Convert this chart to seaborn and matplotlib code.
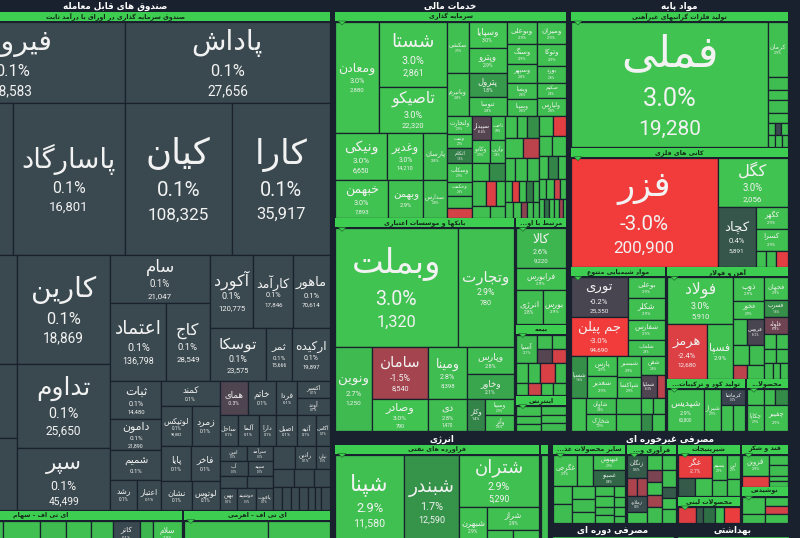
import numpy as np
import pandas as pd
import seaborn as sns
import matplotlib
matplotlib.use("Agg")
import matplotlib.pyplot as plt
from matplotlib.patches import Rectangle, Polygon
from matplotlib.colors import Normalize

# ---------------------------------------------------------------- data
# (symbol, daily change %, last price, market-size weight)
fi_row1 = [("فیروزه", 0.1, "18,583", 181), ("پاداش", 0.1, "27,656", 166)]
fi_row2 = [("", 0.1, "", 171), ("پاسارگاد", 0.1, "16,801", 171), ("کیان", 0.1, "108,325", 162), ("کارا", 0.1, "35,917", 150)]
fi_cut = [("", 0.1, "", 127), ("", 0.1, "", 85), ("", 0.1, "", 84)]
fi_big = [("کارین", 0.1, "18,869", 102), ("تداوم", 0.1, "25,650", 79), ("سپر", 0.1, "45,499", 58)]
fi_sam = [("سام", 0.1, "21,047", 47)]
fi_etemad = [("اعتماد", 0.1, "136,798", 44), ("کاج", 0.1, "28,549", 34)]
fi_akord = [("آکورد", 0.1, "120,775", 32), ("کارآمد", 0.1, "17,846", 29), ("ماهور", 0.1, "70,614", 27)]
fi_toska = [("توسکا", 0.1, "23,575", 30), ("ثمر", 0.1, "15,666", 14), ("ارکیده", 0.1, "19,897", 20)]
fi_sabat = [("ثبات", 0.1, "14,480", 19), ("دامون", 0.1, "21,890", 16), ("شمیم", 0.1, "", 15)]
fi_roshd = [("رشد", 0.1, "", 8), ("اعتبار", 0.1, "", 7.5)]
fi_kamand = [("کمند", 0.1, "", 14.5)]
fi_lotix = [("لوتیکس", 0.1, "98,882", 12), ("زمرد", 0.1, "", 11)]
fi_paya = [("پایا", 0.1, "", 10.5), ("فاخر", 0.1, "", 10)]
fi_neshan = [("نشان", 0.1, "", 8.7), ("لوتوس", 0.1, "", 8.1)]
fi_homay = [("همای", -0.3, "", 9.5), ("خاتم", 0.1, "", 9.8), ("فردا", 0.1, "", 7)]
fi_exir = [("اکسیر", 0.1, "", 5.4), ("آوند", 0.1, "", 5.8)]
fi_sahel = [("ساحل", 0.1, "", 5.8), ("آلما", 0.1, "", 6.4), ("دارا", 0.1, "", 5.4),
            ("اصیل", 0.1, "", 6.4), ("آتیه", 0.1, "", 5.8), ("آگاس", 0.1, "", 4.5)]
fi_tiny_a = [("امین", 0.1, "", 4.0), ("سرآمد", 0.1, "", 3.8)]
fi_tiny_b = [("آب", 0.1, "", 4.2), ("سپید", 0.1, "", 3.8)]
fi_tiny_c = [("سخند", 0.1, "", 3.2), ("", 0.1, "", 3.0)]
fi_tiny_d = [("بهین", 0.1, "", 4.0), ("خوشپند", 0.1, "", 4.2), ("یاقوت", 0.1, "", 3.8)]
fi_tiny_e = [("", 0.1, "", 5.0), ("رادین", 0.1, "", 4.6), ("نیلی", 0.1, "", 3.2)]
fi_tiny_f = [("", 0.1, "", 4.0), ("", 0.1, "", 3.6), ("", 0.1, "", 3.0)]
fi_tiny_g = [("", 0.1, "", 2.0), ("", 0.1, "", 2.0), ("", 0.1, "", 2.0), ("", 0.1, "", 2.0),
             ("", 0.1, "", 1.5), ("", 0.1, "", 1.5), ("", 0.1, "", 2.0)]
etf_stock = [("", 2.8, "", 26.5), ("", 2.9, "", 9.6), ("", 2.7, "", 6.8), ("", 2.9, "", 6.5),
             ("", 2.8, "", 5.7), ("کاتر", 0.1, "", 7), ("", 2.6, "", 3.4), ("سلام", 2.9, "", 7.5)]
etf_lev = [("", 2.9, "", 22), ("", 2.9, "", 16)]

inv_maaden = [("ومعادن", 3.0, "2,880", 49)]
inv_shasta = [("شستا", 3.0, "2,861", 44), ("تاصیکو", 3.0, "22,320", 31)]
inv_row2 = [("ونیکی", 3.0, "6,650", 25), ("وغدیر", 3.0, "14,210", 17), ("پارسان", 2.8, "", 11.5)]
inv_row3 = [("خبهمن", 3.0, "7,893", 20), ("وبهمن", 2.9, "", 13), ("صدارس", 2.8, "", 9)]
inv_b1c1 = [("سکشی", 2.9, "", 11), ("وبانیرم", 2.8, "", 9.2)]
inv_b1c2 = [("وسپایا", 3.0, "", 10), ("وپترو", 2.9, "", 9.3), ("پترول", 1.8, "", 9.3), ("ثنوسا", 2.8, "", 7)]
inv_b1c3 = [("وبوعلی", 2.9, "", 6.9), ("وسنگ", 2.9, "", 6), ("وسپهر", 2.8, "", 5.7), ("ویسا", 2.8, "", 5.1), ("وسینا", 2.8, "", 5.1)]
inv_b1c4 = [("ومیران", 2.9, "", 6.4), ("وتوکا", 2.9, "", 6.2), ("بورد", 2.8, "", 4.8), ("صکیم", 2.8, "", 4.5), ("ولپارس", 2.8, "", 5)]
b2_c1 = [("ولتجارت", 2.9, "", 4.5), ("ونفت", 2.9, "", 3.5), ("اتکام", 1.3, "", 3.8), ("وسکاب", 2.9, "", 4.5),
         ("وحکمت", 2.8, "", 3.5), ("", 2.9, "", 3.0), ("", -2.2, "", 2.5)]
b2_c2r1 = [("سپیدار", -0.4, "", 4.6), ("ثاخت", 2.8, "", 3.4)]
b2_c2r2 = [("وکادو", 2.9, "", 4.0), ("وآرین", 2.8, "", 3.6)]
b2_c2r3 = [("", 2.9, "", 3.2), ("", 1.5, "", 3.0)]
b2_c2r4 = [("", 2.8, "", 3.4), ("", -2.4, "", 2.6), ("", 2.9, "", 2.2)]
b2_c2r5 = [("", 2.9, "", 2.2), ("", 2.8, "", 1.8)]
b2_c3r1 = [("وتوسکا", 2.9, "", 2.6), ("", 2.8, "", 2.4), ("", 1.6, "", 2.5)]
b2_c3r2 = [("", 2.9, "", 3.5), ("", -1.8, "", 3.0)]
b2_c3r3 = [("", 2.8, "", 2.2), ("", 2.9, "", 2.8), ("", 2.7, "", 2.5)]
b2_c3r4 = [("", 2.8, "", 1.5), ("", -2.5, "", 1.5), ("", 2.9, "", 1.5), ("", 1.2, "", 1.5), ("", 2.7, "", 1.2)]
b2_c3r5 = [("", 2.8, "", 1.2), ("", 2.9, "", 1.2), ("", -1.2, "", 1.0), ("", 2.8, "", 1.0), ("", 2.7, "", 0.8)]
b2_c4r1 = [("", 2.9, "", 3.0), ("", -2.6, "", 2.5)]
b2_c4r2 = [("", 2.8, "", 2.8), ("", 2.9, "", 2.8)]
b2_c4r3 = [("", 2.9, "", 2.2), ("", 1.4, "", 2.2), ("", 2.8, "", 1.8)]
b2_c4r4 = [("", 2.8, "", 1.5), ("", 2.9, "", 1.5), ("", -2.0, "", 1.2), ("", 2.7, "", 1.2)]
b2_c4r5 = [("", 2.8, "", 1.0), ("", 1.0, "", 1.0), ("", 2.9, "", 1.0), ("", 2.8, "", 0.8), ("", -1.5, "", 0.8), ("", 2.9, "", 0.6)]

bank_top = [("وبملت", 3.0, "1,320", 146), ("وتجارت", 2.9, "780", 67)]
bank_novin = [("ونوین", 2.7, "1,250", 31)]
bank_saman = [("سامان", -1.5, "8,540", 29), ("وصادر", 3.0, "790", 18)]
bank_mina = [("ومینا", 2.8, "8,398", 20), ("دی", 2.8, "1,470", 12.5)]
bank_pars = [("وپارس", 2.8, "", 12.7), ("وخاور", 2.1, "", 11.7)]
bank_small = [("وکار", 1.4, "", 5.8)]
bank_small2 = [("وسینا", 2.9, "", 4.6), ("وآذر", 2.8, "", 4.6)]
brs_kala = [("کالا", 2.6, "9,220", 20), ("فرابورس", 2.9, "", 11)]
brs_row = [("انرژی", 2.8, "", 9.2), ("بورس", 2.9, "", 7.8)]
ins_r1a = [("آسیا", 2.7, "", 6.0)]
ins_r1b1 = [("", 2.8, "", 2.0), ("", 2.9, "", 2.0)]
ins_r1b2 = [("", -0.4, "", 2.0), ("", -2.2, "", 2.0)]
ins_r2 = [("", 2.9, "", 2.5), ("", 2.8, "", 2.5), ("", -2.3, "", 3.2), ("", 2.7, "", 2.2)]
ins_r3 = [("", 2.8, "", 1.5), ("", -2.0, "", 1.5), ("", 2.9, "", 1.5), ("", 2.8, "", 1.5)]
net_c1 = [("", 2.9, "", 2.6), ("", 2.8, "", 2.2), ("", 2.9, "", 1.7)]
net_c2 = [("", 2.8, "", 2.2), ("", 2.9, "", 2.0), ("", 2.7, "", 2.0)]

prec_big = [("فملی", 3.0, "19,280", 247)]
prec_col = [("کرمان", 2.9, "", 10.5), ("", 2.8, "", 2.5), ("", 2.9, "", 2.0), ("", 2.8, "", 2.5), ("", 2.9, "", 2.0)]
prec_tiny1 = [("", 2.8, "", 0.8), ("", 0.1, "", 0.7), ("", 2.9, "", 0.8)]
prec_tiny2 = [("", 2.9, "", 0.8), ("", 2.8, "", 0.8), ("", 2.7, "", 0.7)]
ore_big = [("فزر", -3.0, "200,900", 160)]
ore_kegol = [("کگل", 3.0, "2,056", 34.5)]
ore_kchad = [("کچاد", 0.4, "5,891", 22.8)]
ore_small = [("کگهر", 2.9, "", 7), ("کسرا", 2.9, "", 7)]
ore_tiny = [("", 2.9, "", 1.6), ("", 2.8, "", 1.6), ("", -2.6, "", 1.9)]
chem_big = [("توری", -0.2, "25,350", 22.5), ("جم پیلن", -3.0, "94,690", 22)]
chem_col = [("بوعلی", 2.9, "", 7.8), ("شکلر", 2.9, "", 8.2), ("شفارس", 2.9, "", 7.8), ("شلعاب", 2.8, "", 5.9)]
chem_mid1 = [("شسپا", 1.6, "", 6.8)]
chem_mid2 = [("پارس", 2.9, "", 6.0), ("شغدیر", 2.9, "", 6.4)]
chem_mid3 = [("شبصیر", 2.9, "", 5.2), ("شپاکسا", 2.9, "", 5.0)]
chem_mid4 = [("شفن", 2.8, "", 4.5)]
chem_mid5 = [("شملیا", -0.3, "", 3.5), ("", -1.8, "", 2.0)]
chem_bot1 = [("شکربن", 2.9, "", 5.0)]
chem_bot2 = [("شاوان", 2.8, "", 5.0), ("شخارک", 2.9, "", 5.0)]
chem_bot3 = [("", 2.8, "", 4.2), ("", 2.9, "", 4.2)]
chem_bot4a = [("", 2.9, "", 2.0), ("", 2.8, "", 2.0)]
chem_bot4b = [("", 1.5, "", 2.0), ("", 2.9, "", 2.2)]
steel_folad = [("فولاد", 3.0, "5,910", 31)]
steel_hormoz = [("هرمز", -2.4, "12,680", 21.5), ("فسپا", 2.9, "", 14.3)]
steel_c2 = [("ذوب", 2.9, "", 7.4), ("فخوز", 2.9, "", 5.4)]
steel_c2r1 = [("فاسمین", 2.8, "", 3.5), ("فروس", -0.2, "", 4.5)]
steel_c2r2 = [("", 2.9, "", 3.2), ("", 2.8, "", 3.0)]
steel_c2r3 = [("فنوال", -1.8, "", 2.0), ("", 2.9, "", 2.4)]
steel_c3 = [("فجهان", 2.9, "", 5.4), ("فسرب", 1.6, "", 4.0), ("فلوله", -0.8, "", 4.0)]
steel_c3r1 = [("", 2.9, "", 1.8), ("", 2.8, "", 1.6)]
steel_c3r2 = [("", 2.9, "", 1.6), ("", 2.7, "", 1.6)]
steel_c3r3 = [("", 2.8, "", 1.4), ("", 2.9, "", 1.2), ("", 2.8, "", 1.2)]
fert_big = [("شپدیس", 2.9, "60,800", 15.2), ("شیراز", 2.9, "", 7.4)]
fert_k = [("کرماشا", 0.0, "", 3.6)]
fert_r = [("", 2.9, "", 3.1), ("", 2.8, "", 3.1)]
paper_r1 = [("", 2.9, "", 2.8), ("", 2.8, "", 1.8), ("", 1.5, "", 2.0)]
paper_r2 = [("چکاپا", 2.9, "", 4.4), ("چفیبر", 2.9, "", 6)]

oil_big = [("شپنا", 2.9, "11,580", 64), ("شبندر", 1.7, "12,590", 51)]
oil_shetran = [("شتران", 2.9, "5,290", 42.5)]
oil_behran = [("شبهرن", 2.9, "", 11.5)]
oil_shiraz = [("شراز", 2.9, "", 12)]
oil_tiny = [("", 2.8, "", 4.4), ("", 2.9, "", 4.4)]
oil_sliver = [("", 2.9, "", 6.5)]

food_top = [("غگرجی", 2.9, "", 7.7), ("غشهداب", 2.9, "", 5.2)]
food_top2 = [("غبهنوش", 2.9, "", 5.1), ("غصینو", 0.8, "", 5.1)]
food_b1 = [("", 2.9, "", 3.6), ("", 2.8, "", 3.6)]
food_b2 = [("", 2.9, "", 3.0), ("", 2.8, "", 3.0), ("", 2.9, "", 2.4)]
food_b3 = [("", 2.8, "", 2.0), ("", 2.9, "", 2.0), ("", 2.7, "", 1.6), ("", 2.9, "", 1.6)]
food_b4 = [("", 2.9, "", 1.2), ("", 2.8, "", 1.2), ("", 2.9, "", 1.0), ("", 2.8, "", 0.8)]
agri_c1 = [("زنگان", 0.5, "", 4.6)]
agri_c1r = [("", -1.6, "", 1.8), ("", -1.5, "", 1.8)]
agri_c1b = [("زملارد", 0.2, "", 3.0), ("", 2.9, "", 2.2)]
agri_c2 = [("", 2.9, "", 2.5), ("", -1.0, "", 2.0), ("", 2.9, "", 2.0), ("", -1.5, "", 2.0), ("", 2.8, "", 2.5)]
agri_c3 = [("", 2.9, "", 2.2), ("", 2.8, "", 2.3), ("", 0.5, "", 1.5), ("", 2.9, "", 1.5), ("", 2.8, "", 2.0)]
sweet_red = [("غگر", -2.7, "", 8.1)]
sweet_r = [("", 0.5, "", 3.2), ("", 2.9, "", 3.4)]
sweet_c2 = [("بسیم", 2.9, "", 3.7), ("", 2.8, "", 2.3)]
sweet_c3 = [("لین", 2.9, "", 3.3), ("", 2.9, "", 2.3)]
dairy = [("", -2.5, "", 3.0), ("", 0.5, "", 1.0), ("", 1.0, "", 2.0), ("", 2.9, "", 1.5), ("", -2.8, "", 2.5)]
sugar_c1 = [("قزوین", 2.9, "", 6.0), ("", -2.6, "", 3.0)]
sugar_c2 = [("", 2.9, "", 2.0), ("", 2.8, "", 2.0), ("", 2.9, "", 1.0), ("", 2.8, "", 1.0)]
drink_c1 = [("", 2.9, "", 4.0), ("", 2.8, "", 2.0)]
drink_c2 = [("", 2.9, "", 2.0), ("", -2.2, "", 2.0), ("", 2.9, "", 2.0)]
cyc = [("", 2.8, "", 13)]
hyg = [("", 2.9, "", 12)]

# ---------------------------------------------------------------- style
sns.set_theme(style="dark")
plt.rcParams["font.family"] = ["DejaVu Sans"]
BG = "#19212e"
BAND = "#3dcd50"
NAME_FONT = ["DejaVu Sans"]
NUM_FONT = ["Roboto", "DejaVu Sans"]
cmap = sns.blend_palette(["#f23b3b", "#cc434a", "#7a4452", "#3b4550",
                          "#2f6f45", "#38a34c", "#41c351"], as_cmap=True)
norm = Normalize(-3, 3)
HEAD = {"sector": 12, "sub": 10}
PADW = {"sector": 3.0, "sub": 2.0}
PADH = {"sector": 1.0, "sub": 0.5}

# ---------------------------------------------------------------- Persian shaping
FORMS = {
    'ا': ('\uFE8D', '\uFE8E', None, None), 'آ': ('\uFE81', '\uFE82', None, None),
    'ب': ('\uFE8F', '\uFE90', '\uFE91', '\uFE92'), 'پ': ('\uFB56', '\uFB57', '\uFB58', '\uFB59'),
    'ت': ('\uFE95', '\uFE96', '\uFE97', '\uFE98'), 'ث': ('\uFE99', '\uFE9A', '\uFE9B', '\uFE9C'),
    'ج': ('\uFE9D', '\uFE9E', '\uFE9F', '\uFEA0'), 'چ': ('\uFB7A', '\uFB7B', '\uFB7C', '\uFB7D'),
    'ح': ('\uFEA1', '\uFEA2', '\uFEA3', '\uFEA4'), 'خ': ('\uFEA5', '\uFEA6', '\uFEA7', '\uFEA8'),
    'د': ('\uFEA9', '\uFEAA', None, None), 'ذ': ('\uFEAB', '\uFEAC', None, None),
    'ر': ('\uFEAD', '\uFEAE', None, None), 'ز': ('\uFEAF', '\uFEB0', None, None),
    'ژ': ('\uFB8A', '\uFB8B', None, None),
    'س': ('\uFEB1', '\uFEB2', '\uFEB3', '\uFEB4'), 'ش': ('\uFEB5', '\uFEB6', '\uFEB7', '\uFEB8'),
    'ص': ('\uFEB9', '\uFEBA', '\uFEBB', '\uFEBC'), 'ض': ('\uFEBD', '\uFEBE', '\uFEBF', '\uFEC0'),
    'ط': ('\uFEC1', '\uFEC2', '\uFEC3', '\uFEC4'), 'ظ': ('\uFEC5', '\uFEC6', '\uFEC7', '\uFEC8'),
    'ع': ('\uFEC9', '\uFECA', '\uFECB', '\uFECC'), 'غ': ('\uFECD', '\uFECE', '\uFECF', '\uFED0'),
    'ف': ('\uFED1', '\uFED2', '\uFED3', '\uFED4'), 'ق': ('\uFED5', '\uFED6', '\uFED7', '\uFED8'),
    'ک': ('\uFB8E', '\uFB8F', '\uFB90', '\uFB91'), 'گ': ('\uFB92', '\uFB93', '\uFB94', '\uFB95'),
    'ل': ('\uFEDD', '\uFEDE', '\uFEDF', '\uFEE0'), 'م': ('\uFEE1', '\uFEE2', '\uFEE3', '\uFEE4'),
    'ن': ('\uFEE5', '\uFEE6', '\uFEE7', '\uFEE8'), 'و': ('\uFEED', '\uFEEE', None, None),
    'ه': ('\uFEE9', '\uFEEA', '\uFEEB', '\uFEEC'), 'ی': ('\uFBFC', '\uFBFD', '\uFBFE', '\uFBFF'),
    'ئ': ('\uFE89', '\uFE8A', '\uFE8B', '\uFE8C'),
}


def shape(s):
    s = s.replace('ي', 'ی').replace('ك', 'ک')
    out = []
    for i, c in enumerate(s):
        f = FORMS.get(c)
        if f is None:
            out.append(c)
            continue
        prev = s[i - 1] if i > 0 else None
        nxt = s[i + 1] if i + 1 < len(s) else None
        jp = prev in FORMS and FORMS[prev][2] is not None
        jn = f[2] is not None and nxt in FORMS
        out.append(f[3] if (jp and jn) else f[1] if jp else f[2] if jn else f[0])
    t = ''.join(out)
    t = (t.replace('\uFEDF\uFE8E', '\uFEFB').replace('\uFEE0\uFE8E', '\uFEFC')
          .replace('\uFEDF\uFE82', '\uFEF5').replace('\uFEE0\uFE82', '\uFEF6'))
    return t.replace('\u200c', '')[::-1]


# ---------------------------------------------------------------- tree helpers
def _leaf(t):
    return {"leaf": True, "name": t[0], "pct": t[1], "price": t[2], "size": t[3]}


def _collect(parts):
    kids = []
    for p in parts:
        kids.extend(p if isinstance(p, list) else [p])
    return [_leaf(k) if isinstance(k, tuple) else k for k in kids]


def H(*parts):
    return {"dir": "h", "kids": _collect(parts)}


def V(*parts):
    return {"dir": "v", "kids": _collect(parts)}


def G(title, kind, node):
    node = dict(node)
    node["title"] = title
    node["kind"] = kind
    return node


fixed = G("صندوق سرمایه گذاری در اوراق با درآمد ثابت", "sub", V(
    H(fi_row1),
    H(fi_row2),
    H(V(fi_cut), V(fi_big), V(
        H(V(fi_sam, H(fi_etemad)), V(H(fi_akord), H(fi_toska))),
        H(V(fi_sabat, H(fi_roshd)),
          V(fi_kamand, H(fi_lotix), H(fi_paya), H(fi_neshan)),
          V(H(fi_homay, V(fi_exir)), H(fi_sahel),
            H(V(H(fi_tiny_a), H(fi_tiny_b), H(fi_tiny_c), H(fi_tiny_d)),
              V(H(fi_tiny_e), H(fi_tiny_f), H(fi_tiny_g)))))))))
etf = H(G("ای تی اف - سهام", "sub", H(etf_stock)), G("ای تی اف - اهرمی", "sub", H(etf_lev)))
LEFT = G("صندوق های قابل معامله", "sector", V(fixed, etf))

FIN = G("خدمات مالی", "sector", V(
    G("سرمایه گذاری", "sub", H(
        V(H(inv_maaden, V(inv_shasta)), H(inv_row2), H(inv_row3)),
        V(H(V(inv_b1c1), V(inv_b1c2), V(inv_b1c3), V(inv_b1c4)),
          H(V(b2_c1),
            V(H(b2_c2r1), H(b2_c2r2), H(b2_c2r3), H(b2_c2r4), H(b2_c2r5)),
            V(H(b2_c3r1), H(b2_c3r2), H(b2_c3r3), H(b2_c3r4), H(b2_c3r5)),
            V(H(b2_c4r1), H(b2_c4r2), H(b2_c4r3), H(b2_c4r4), H(b2_c4r5)))))),
    H(G("بانکها و موسسات اعتباری", "sub", V(
        H(bank_top),
        H(bank_novin, V(bank_saman), V(bank_mina), V(bank_pars, H(bank_small, V(bank_small2)))))),
      V(G("مرتبط با اوراق بهادار", "sub", V(brs_kala, H(brs_row))),
        G("بیمه", "sub", V(H(ins_r1a, V(H(ins_r1b1), H(ins_r1b2))), H(ins_r2), H(ins_r3))),
        G("اینترنتی", "sub", H(V(net_c1), V(net_c2)))))))

MAT = G("مواد پایه", "sector", V(
    G("تولید فلزات گرانبهای غیرآهنی", "sub", H(prec_big, V(prec_col, H(prec_tiny1), H(prec_tiny2)))),
    G("کانی های فلزی", "sub", H(ore_big, V(ore_kegol, H(ore_kchad, V(ore_small, H(ore_tiny)))))),
    H(G("مواد شیمیایی متنوع", "sub", V(
        H(V(chem_big), V(chem_col)),
        H(chem_mid1, V(chem_mid2), V(chem_mid3), V(chem_mid4, H(chem_mid5))),
        H(chem_bot1, V(chem_bot2), V(chem_bot3), V(H(chem_bot4a), H(chem_bot4b))))),
      V(G("آهن و فولاد", "sub", H(
          V(steel_folad, H(steel_hormoz)),
          V(steel_c2, H(steel_c2r1), H(steel_c2r2), H(steel_c2r3)),
          V(steel_c3, H(steel_c3r1), H(steel_c3r2), H(steel_c3r3)))),
        H(G("تولید کود و ترکیبات نیتروژن", "sub", H(fert_big, V(fert_k, H(fert_r)))),
          G("محصولات کاغذی", "sub", V(H(paper_r1), H(paper_r2))))))))

ENERGY = G("انرژی", "sector", H(
    G("فراورده های نفتی", "sub", H(oil_big, V(oil_shetran, H(oil_behran, V(oil_shiraz, H(oil_tiny)))))),
    G("", "sub", H(oil_sliver))))

CONS = G("مصرفی غیرخوره ای", "sector", H(
    G("سایر محصولات غذایی", "sub", V(H(food_top, V(food_top2)),
                                     H(V(food_b1), V(food_b2), V(food_b3), V(food_b4)))),
    G("فرآوری و دامپروری", "sub", H(V(agri_c1, H(agri_c1r), agri_c1b), V(agri_c2), V(agri_c3))),
    V(G("شیرینیجات", "sub", H(V(sweet_red, H(sweet_r)), V(sweet_c2), V(sweet_c3))),
      G("محصولات لبنی", "sub", H(dairy))),
    V(G("قند و شکر", "sub", H(V(sugar_c1), V(sugar_c2))),
      G("نوشیدنی", "sub", H(V(drink_c1), V(drink_c2))))))

ROOT = H(LEFT, V(H(FIN, MAT),
                 H(ENERGY, V(CONS, H(G("مصرفی دوره ای", "sector", H(cyc)),
                                     G("بهداشتی", "sector", H(hyg)))))))

# ---------------------------------------------------------------- figure
fig = plt.figure(figsize=(8.0, 5.38), dpi=100, facecolor=BG)
ax = fig.add_axes([0, 0, 1, 1])
ax.set_facecolor(BG)
ax.set_xlim(0, 800)
ax.set_ylim(538, 0)
ax.axis("off")
R = fig.canvas.get_renderer()
PX = 100 / 72.0
_wcache = {}


def text_w(s, family, weight="normal"):
    key = (s, tuple(family), weight)
    if key not in _wcache:
        t = ax.text(0, 0, s, fontsize=10, family=family, fontweight=weight)
        _wcache[key] = t.get_window_extent(renderer=R).width
        t.remove()
    return _wcache[key]


def size_of(n):
    if n.get("leaf"):
        return n["size"]
    if "_s" not in n:
        n["_s"] = sum(size_of(k) for k in n["kids"])
    return n["_s"]


def over(n):
    """(vertical overhead, horizontal overhead) of headers and paddings."""
    if n.get("leaf"):
        return 0.0, 0.0
    if "_ov" in n:
        return n["_ov"]
    kind = n.get("kind")
    oh = (HEAD[kind] + PADH[kind]) if kind else 0.0
    ow = PADW[kind] if kind else 0.0
    kids = n["kids"]
    S = np.array([size_of(k) for k in kids])
    ovs = np.array([over(k) for k in kids])
    if n["dir"] == "v":
        oh += ovs[:, 0].sum()
        ow += (ovs[:, 1] * S).sum() / S.sum()
    else:
        ow += ovs[:, 1].sum()
        oh += (ovs[:, 0] * S).sum() / S.sum()
    n["_ov"] = (oh, ow)
    return n["_ov"]


notches = []


def draw_leaf(n, x0, y0, x1, y1):
    w, h = x1 - x0, y1 - y0
    ax.add_patch(Rectangle((x0, y0), w, h, facecolor=cmap(norm(n["pct"])),
                           edgecolor=BG, linewidth=0.9))
    if not n["name"] or w < 7 or h < 7:
        return
    name = shape(n["name"])
    em = min(0.28 * np.sqrt(w * h), 0.35 * h, 10 * PX * 0.84 * w / text_w(name, NAME_FONT))
    if em < 4.2:
        return
    pct = f"{n['pct']:.1f}%"
    price = n["price"]
    P = min(0.58 * em, 10 * PX * 0.9 * w / text_w(pct, NUM_FONT))
    Rr = min(0.48 * em, 10 * PX * 0.9 * w / text_w(price, NUM_FONT)) if price else 0
    total = 1.25 * em + 1.4 * P + 1.2 * Rr
    cx, top = (x0 + x1) / 2, (y0 + y1) / 2 - total / 2
    col = "#f2f2f2"
    ax.text(cx, top + 0.62 * em, name, fontsize=em / PX, family=NAME_FONT,
            ha="center", va="center", color=col)
    ax.text(cx, top + 1.25 * em + 0.7 * P, pct, fontsize=P / PX, family=NUM_FONT,
            ha="center", va="center", color=col)
    if price:
        ax.text(cx, top + 1.25 * em + 1.4 * P + 0.6 * Rr, price, fontsize=Rr / PX,
                family=NUM_FONT, ha="center", va="center", color=col)


def header_text(title, x0, x1, yc, fs, color, weight):
    if not title:
        return
    avail = (x1 - x0) - 6
    s = title
    shaped = shape(s)
    while s and text_w(shaped, NAME_FONT, weight) * fs / 10 > avail:
        s = s[:-1]
        shaped = shape(s.rstrip() + "...") if s else ""
    if shaped:
        ax.text((x0 + x1) / 2, yc, shaped, fontsize=fs, family=NAME_FONT, fontweight=weight,
                ha="center", va="center", color=color)


def layout(n, x0, y0, x1, y1):
    if n.get("leaf"):
        draw_leaf(n, x0, y0, x1, y1)
        return
    kind = n.get("kind")
    if kind == "sector":
        x0, x1, y1 = x0 + 1.5, x1 - 1.5, y1 - 1.0
        hh = HEAD["sector"]
        header_text(n["title"], x0, x1, y0 + hh / 2 + 0.5, 6.3, "white", "bold")
        y0 += hh
    elif kind == "sub":
        x0, x1, y1 = x0 + 1.0, x1 - 1.0, y1 - 0.5
        hh = HEAD["sub"]
        ax.add_patch(Rectangle((x0, y0), x1 - x0, hh - 1, facecolor=BAND, edgecolor="none"))
        header_text(n["title"], x0, x1, y0 + hh / 2 - 0.5, 4.6, "#14261a", "bold")
        if x1 - x0 > 30:
            notches.append((x0, y0 + hh - 1))
        y0 += hh
    kids = n["kids"]
    S = np.array([size_of(k) for k in kids], dtype=float)
    ovs = np.array([over(k) for k in kids], dtype=float)
    W, Hh = x1 - x0, y1 - y0
    if n["dir"] == "h":
        base = S / np.maximum(Hh - ovs[:, 0], 1.0)
        k_ = max(W - ovs[:, 1].sum(), 1.0) / base.sum()
        ws = ovs[:, 1] + k_ * base
        edges = x0 + np.concatenate([[0], np.cumsum(ws)])
        for k, a, b in zip(kids, edges[:-1], edges[1:]):
            layout(k, a, y0, b, y1)
    else:
        base = S / np.maximum(W - ovs[:, 1], 1.0)
        k_ = max(Hh - ovs[:, 0].sum(), 1.0) / base.sum()
        hs = ovs[:, 0] + k_ * base
        edges = y0 + np.concatenate([[0], np.cumsum(hs)])
        for k, a, b in zip(kids, edges[:-1], edges[1:]):
            layout(k, x0, a, x1, b)


layout(ROOT, -102, 0, 790, 548)

for (nx, ny) in notches:
    ax.add_patch(Polygon([(nx + 3, ny), (nx + 11, ny), (nx + 7, ny + 4)], closed=True,
                         facecolor=BAND, edgecolor="#1f5a2a", linewidth=0.4, zorder=5))

fig.savefig("out.png", dpi=100, facecolor=BG)
